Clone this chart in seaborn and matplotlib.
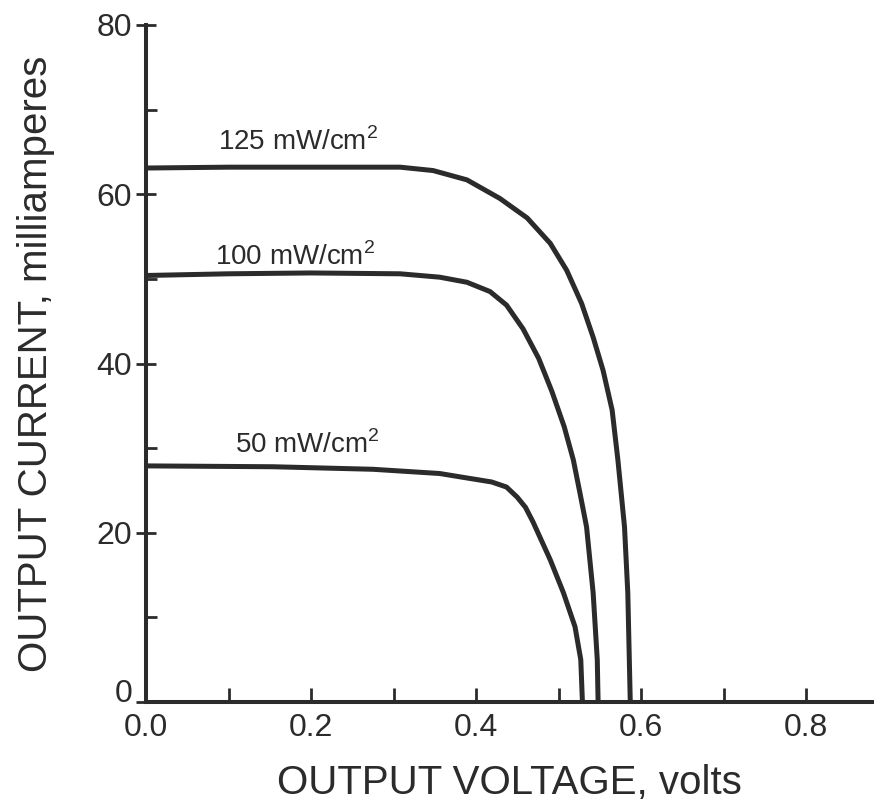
import numpy as np
import pandas as pd
import matplotlib
matplotlib.use("Agg")
import matplotlib.pyplot as plt
import seaborn as sns
from matplotlib.ticker import MultipleLocator

# ---- data ----
v_125 = [0.0, 0.1, 0.2, 0.308, 0.348, 0.389, 0.429, 0.462, 0.49, 0.51, 0.528, 0.542, 0.554, 0.565, 0.572, 0.58, 0.584, 0.587]
i_125 = [63.1, 63.2, 63.2, 63.2, 62.8, 61.7, 59.5, 57.2, 54.2, 51.0, 47.1, 43.1, 39.2, 34.5, 28.6, 20.7, 12.9, 0.0]

v_100 = [0.0, 0.1, 0.2, 0.308, 0.356, 0.389, 0.417, 0.437, 0.457, 0.476, 0.492, 0.507, 0.518, 0.526, 0.534, 0.542, 0.547, 0.548]
i_100 = [50.4, 50.6, 50.7, 50.6, 50.2, 49.6, 48.5, 46.9, 44.1, 40.6, 36.7, 32.5, 28.6, 24.7, 20.7, 12.9, 5.0, 0.0]

v_50 = [0.0, 0.154, 0.275, 0.356, 0.381, 0.419, 0.437, 0.45, 0.46, 0.469, 0.49, 0.506, 0.52, 0.527, 0.529]
i_50 = [27.9, 27.8, 27.5, 27.0, 26.6, 26.0, 25.4, 24.2, 23.0, 21.3, 16.8, 12.9, 8.9, 5.0, 0.0]

series_labels = ["125 mW/cm$^2$", "100 mW/cm$^2$", "50 mW/cm$^2$"]
label_pos_v = [0.087, 0.084, 0.108]
label_pos_i = [65.2, 51.6, 29.4]

x_ticks = [0.0, 0.2, 0.4, 0.6, 0.8]
y_ticks = [0, 20, 40, 60, 80]
x_label = "OUTPUT VOLTAGE, volts"
y_label = "OUTPUT CURRENT, milliamperes"

INK = "#2b2b2b"

df = pd.concat([
    pd.DataFrame({"V": v_125, "I": i_125, "curve": series_labels[0]}),
    pd.DataFrame({"V": v_100, "I": i_100, "curve": series_labels[1]}),
    pd.DataFrame({"V": v_50, "I": i_50, "curve": series_labels[2]}),
], ignore_index=True)

sns.set_theme(style="ticks")
plt.rcParams["font.family"] = ["Liberation Sans", "DejaVu Sans"]
plt.rcParams["mathtext.fontset"] = "custom"
plt.rcParams["mathtext.rm"] = "Liberation Sans"
plt.rcParams["lines.solid_joinstyle"] = "round"
plt.rcParams["lines.solid_capstyle"] = "butt"

fig = plt.figure(figsize=(8.74, 8.06), dpi=100)
ax = fig.add_axes([146 / 874, 104 / 806, 726 / 874, 677 / 806])

sns.lineplot(data=df, x="V", y="I", hue="curve",
             palette={s: INK for s in series_labels},
             estimator=None, sort=False, legend=False,
             linewidth=3.6, ax=ax)

ax.set_xlim(0, 0.88)
ax.set_ylim(0, 80)
ax.set_xticks(x_ticks)
ax.set_xticklabels([f"{t:.1f}" for t in x_ticks])
ax.set_yticks(y_ticks)
ax.set_yticklabels([str(t) for t in y_ticks])
ax.xaxis.set_minor_locator(MultipleLocator(0.1))
ax.yaxis.set_minor_locator(MultipleLocator(10))

for side in ["top", "right"]:
    ax.spines[side].set_visible(False)
for side in ["left", "bottom"]:
    ax.spines[side].set_linewidth(2.9)
    ax.spines[side].set_color(INK)

ax.tick_params(axis="x", which="both", direction="in", length=10, width=2.0,
               color=INK, labelsize=23, labelcolor=INK, pad=8)
ax.tick_params(axis="y", which="major", direction="inout", length=14, width=2.0,
               color=INK, labelsize=23, labelcolor=INK, pad=3)
ax.tick_params(axis="y", which="minor", direction="in", length=8, width=2.0, color=INK)

# the "0" on the y axis sits on the baseline of the x axis, as in the reference
ax.get_yticklabels()[0].set_va("baseline")

ax.set_xlabel(x_label, fontsize=29, color=INK, labelpad=15)
ax.set_ylabel(y_label, fontsize=29, color=INK, labelpad=30)

for txt, xv, yv in zip(series_labels, label_pos_v, label_pos_i):
    ax.text(xv, yv, txt, fontsize=20, color=INK, ha="left", va="baseline")

ax.set_facecolor("white")
fig.patch.set_facecolor("white")
fig.savefig("out.png", dpi=100, facecolor="white")
